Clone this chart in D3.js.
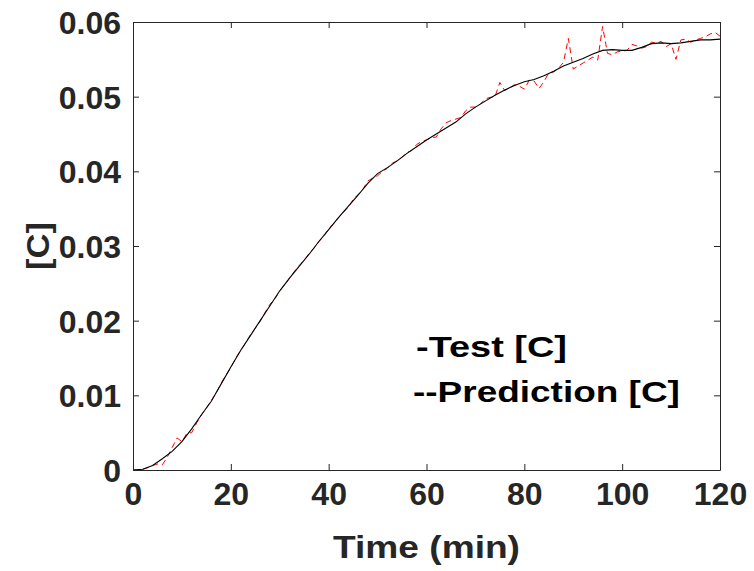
<!DOCTYPE html>
<html>
<head>
<meta charset="utf-8">
<script src="https://cdn.jsdelivr.net/npm/d3@7"></script>
<style>
  body { margin: 0; background: #fff; }
  text { font-family: "Liberation Sans", Arial, Helvetica, sans-serif; font-weight: bold; }
</style>
</head>
<body>
<div id="chart-area"></div>
<script>
// prediction curve, sampled every 2 min
const timePred = [0,2,4,6,8,10,12,14,16,18,20,22,24,26,28,30,32,34,36,38,40,42,44,46,48,50,52,54,56,58,
    60,62,64,66,68,70,72,74,76,78,80,82,84,86,88,90,92,94,96,98,100,102,104,106,108,110,112,114,116,118,120];
const predC = [0,0.0001,0.0006,0.0015,0.0025,0.0038,0.0055,0.0074,0.0092,0.0115,0.0138,0.0160,0.0180,0.0200,0.0220,
    0.0240,0.0257,0.0273,0.0289,0.0306,0.0322,0.0338,0.0353,0.0368,0.0384,0.0397,0.0405,0.0414,0.0424,0.0433,
    0.0442,0.0450,0.0458,0.0466,0.0477,0.0486,0.0494,0.0502,0.0509,0.0515,0.0520,0.0523,0.0528,0.0534,0.0541,
    0.0546,0.0551,0.0557,0.0562,0.0563,0.0562,0.0562,0.0566,0.0571,0.0572,0.0571,0.0572,0.0574,0.0576,0.0576,0.0577];

// measured test data, every minute
const timeTest = [0,1,2,3,4,5,6,7,8,9,10,11,12,13,14,15,16,17,18,19,20,21,22,23,24,25,26,27,28,29,
    30,31,32,33,34,35,36,37,38,39,40,41,42,43,44,45,46,47,48,49,50,51,52,53,54,55,56,57,58,59,
    60,61,62,63,64,65,66,67,68,69,70,71,72,73,74,75,76,77,78,79,80,81,82,83,84,85,86,87,88,89,
    90,91,92,93,94,95,96,97,98,99,100,101,102,103,104,105,106,107,108,109,110,111,112,113,114,115,116,117,118,119,120];
const testC = [0,0,0.0001,0.0003,0.0006,0.0008,0.0007,0.0017,0.0030,0.0043,0.0038,0.0049,0.0050,0.0063,0.0074,
    0.0083,0.0093,0.0103,0.0116,0.0127,0.0137,0.0150,0.0160,0.0170,0.0181,0.0190,0.0199,0.0211,0.0222,0.0229,
    0.0240,0.0248,0.0257,0.0266,0.0274,0.0281,0.0290,0.0297,0.0306,0.0313,0.0323,0.0330,0.0338,0.0345,0.0352,
    0.0362,0.0369,0.0376,0.0387,0.0391,0.0394,0.0400,0.0404,0.0411,0.0414,0.0419,0.0425,0.0428,0.0436,0.0440,
    0.0442,0.0445,0.0446,0.0457,0.0465,0.0468,0.0470,0.0472,0.0481,0.0486,0.0486,0.0490,0.0497,0.0499,0.0500,
    0.0519,0.0508,0.0512,0.0516,0.0514,0.0510,0.0522,0.0521,0.0511,0.0520,0.0532,0.0533,0.0538,0.0546,0.0578,
    0.0537,0.0541,0.0545,0.0549,0.0553,0.0549,0.0594,0.0558,0.0556,0.0560,0.0561,0.0562,0.0570,0.0568,0.0565,
    0.0567,0.0573,0.0572,0.0574,0.0567,0.0571,0.0550,0.0576,0.0577,0.0573,0.0576,0.0578,0.0580,0.0584,0.0586,0.0581];

const xTicks = [0,20,40,60,80,100,120];
const yTicks = [0,0.01,0.02,0.03,0.04,0.05,0.06];
const legendLines = ["-Test [C]", "--Prediction [C]"];

const width = 754;
const height = 571;
const margin = {left: 133, right: 34, top: 22, bottom: 101};
const axisColor = "#262626";

const svg = d3.select("#chart-area")
    .append("svg")
    .attr("width", width)
    .attr("height", height);

const x = d3.scaleLinear().domain([0, 120]).range([margin.left, width - margin.right]);
const y = d3.scaleLinear().domain([0, 0.06]).range([height - margin.bottom, margin.top]);

// data lines
const line = d3.line().x(d => x(d[0])).y(d => y(d[1]));

svg.append("path")
    .datum(timeTest.map((t, i) => [t, testC[i]]))
    .attr("fill", "none")
    .attr("stroke", "#ff0000")
    .attr("stroke-width", 1)
    .attr("stroke-dasharray", "6,4")
    .attr("d", line);

svg.append("path")
    .datum(timePred.map((t, i) => [t, predC[i]]))
    .attr("fill", "none")
    .attr("stroke", "#000")
    .attr("stroke-width", 1.1)
    .attr("d", line);

// box axes, ticks pointing inward (matlab style)
const tickLen = 6;
const fmtY = d => d === 0 ? "0" : d3.format(".2f")(d);

const axBottom = svg.append("g")
    .attr("transform", "translate(0," + y(0) + ")")
    .call(d3.axisBottom(x).tickValues(xTicks).tickSizeInner(-tickLen).tickSizeOuter(0).tickPadding(12));
const axTop = svg.append("g")
    .attr("transform", "translate(0," + y(0.06) + ")")
    .call(d3.axisTop(x).tickValues(xTicks).tickSizeInner(-tickLen).tickSizeOuter(0).tickFormat(""));
const axLeft = svg.append("g")
    .attr("transform", "translate(" + x(0) + ",0)")
    .call(d3.axisLeft(y).tickValues(yTicks).tickSizeInner(-tickLen).tickSizeOuter(0).tickPadding(12).tickFormat(fmtY));
const axRight = svg.append("g")
    .attr("transform", "translate(" + x(120) + ",0)")
    .call(d3.axisRight(y).tickValues(yTicks).tickSizeInner(-tickLen).tickSizeOuter(0).tickFormat(""));

[axBottom, axTop, axLeft, axRight].forEach(g => {
    g.select(".domain").attr("stroke", axisColor).attr("stroke-width", 1);
    g.selectAll(".tick line").attr("stroke", axisColor).attr("stroke-width", 1);
    g.selectAll(".tick text")
        .attr("fill", axisColor)
        .style("font-size", "32px")
        .style("font-family", "'Liberation Sans', Arial, sans-serif")
        .style("font-weight", "bold");
});
axLeft.selectAll(".tick text").attr("dy", "0.36em");

// the original glyphs are wider than Liberation Sans: stretch horizontally to the measured width
function stretched(px, py, w, rot) {
    return function () {
        const k = w / this.getComputedTextLength();
        return "translate(" + px + "," + py + ")" + (rot ? " rotate(" + rot + ")" : "") + " scale(" + k + ",1)";
    };
}

// axis labels
svg.append("text")
    .attr("text-anchor", "middle")
    .attr("fill", axisColor)
    .style("font-size", "31px")
    .text("Time (min)")
    .attr("transform", stretched((x(0) + x(120)) / 2, 558, 187));

svg.append("text")
    .attr("text-anchor", "middle")
    .attr("fill", axisColor)
    .style("font-size", "32px")
    .text("[C]")
    .attr("transform", stretched(49, y(0.03), 48, -90));

// text legend inside the axes
const legendX = [416, 413];
const legendW = [151, 267];
svg.selectAll("legendLabels")
    .data(legendLines)
    .enter()
    .append("text")
    .attr("fill", "#000")
    .style("font-size", "30px")
    .text(d => d)
    .each(function (d, i) {
        d3.select(this).attr("transform", stretched(legendX[i], 357 + i * 45, legendW[i]));
    });
</script>
</body>
</html>
